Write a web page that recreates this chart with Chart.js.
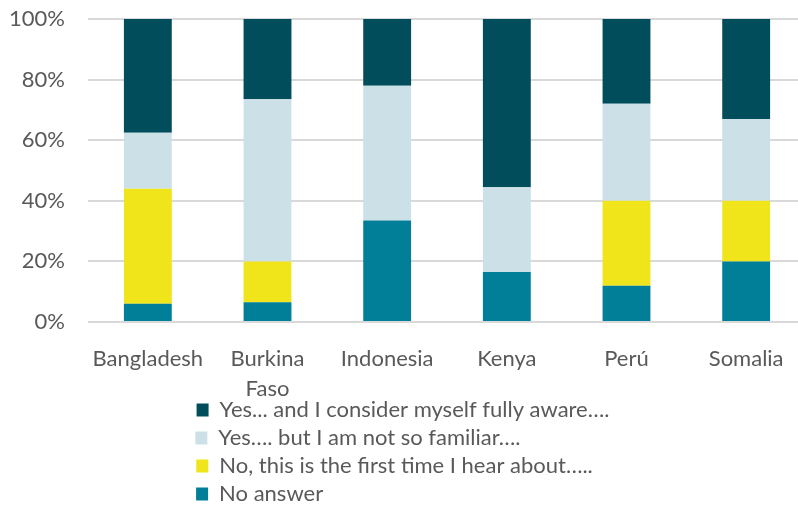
<!DOCTYPE html>
<html>
<head>
<meta charset="utf-8">
<script src="https://cdn.jsdelivr.net/npm/chart.js@4.4.1/dist/chart.umd.min.js"></script>
<style>
  html, body { margin: 0; padding: 0; background: #fff; overflow: hidden; }
  #wrap { width: 806px; height: 515px; }
</style>
</head>
<body>
<div id="wrap"><canvas id="chart" width="806" height="515"></canvas></div>
<script>
// categories + series, stacked bottom -> top
const categories = ['Bangladesh', ['Burkina', 'Faso'], 'Indonesia', 'Kenya', 'Perú', 'Somalia'];
const seriesNames = [
  'No answer',
  'No, this is the first time I hear about…..',
  'Yes…. but I am not so familiar….',
  'Yes... and I consider myself fully aware….'
];
const noAnswer    = [6, 6.5, 33.5, 16.5, 12, 20];
const firstTime   = [38, 13.5, 0, 0, 28, 20];
const notFamiliar = [18.5, 53.5, 44.5, 28, 32, 27];
const fullyAware  = [37.5, 26.5, 22, 55.5, 28, 33];
const yTicks = [0, 20, 40, 60, 80, 100];

const colors = ['#017f99', '#f0e41a', '#cbe1e7', '#024d5b'];
const FONT = 'Lato';
const FS = 22;
const TEXT = '#595959';

// pad legend text so every item takes its own row and rows line up
function padLabels(texts) {
  const c = document.createElement('canvas').getContext('2d');
  c.font = FS + 'px ' + FONT;
  const target = Math.max(377, ...texts.map(t => c.measureText(t).width));
  return texts.map(t => {
    let s = t;
    while (c.measureText(s).width < target) s += '\u00a0';
    return s;
  });
}

const series = [noAnswer, firstTime, notFamiliar, fullyAware];

new Chart(document.getElementById('chart'), {
  type: 'bar',
  data: {
    labels: categories,
    datasets: series.map((d, i) => ({
      label: seriesNames[i],
      data: d,
      backgroundColor: colors[i],
      borderWidth: 0,
      barPercentage: 0.4,
      categoryPercentage: 1
    }))
  },
  options: {
    responsive: false,
    animation: false,
    layout: { padding: { top: 19, left: 0, right: 0, bottom: 0 } },
    scales: {
      x: {
        stacked: true,
        afterFit: s => {
          s.height = 71;
          s._computeLabelArea = () => undefined; // let "Faso" run past the axis box
        },
        grid: { display: false, drawTicks: false },
        border: { display: false },
        ticks: { color: TEXT, font: { family: FONT, size: FS, lineHeight: 1.36 }, padding: 22, maxRotation: 0, autoSkip: false }
      },
      y: {
        stacked: true,
        min: 0,
        max: 100,
        afterFit: s => { s.width = 88; s.paddingTop = 0; s.paddingBottom = 0; },
        afterBuildTicks: s => { s.ticks = yTicks.map(v => ({ value: v })); },
        grid: { color: '#d9d9d9', lineWidth: 2, drawTicks: false },
        border: { display: false },
        ticks: { color: TEXT, font: { family: FONT, size: FS }, padding: 23, callback: v => v + '%' }
      }
    },
    plugins: {
      tooltip: { enabled: false },
      legend: {
        position: 'bottom',
        reverse: true,
        labels: {
          color: TEXT,
          font: { family: FONT, size: FS },
          boxWidth: 12,
          boxHeight: 13,
          padding: 6,
          generateLabels: c => {
            const items = Chart.defaults.plugins.legend.labels.generateLabels(c);
            const padded = padLabels(items.map(it => it.text));
            items.forEach((it, i) => { it.text = padded[i]; it.lineWidth = 0; });
            return items;
          }
        }
      }
    }
  }
});
</script>
</body>
</html>
